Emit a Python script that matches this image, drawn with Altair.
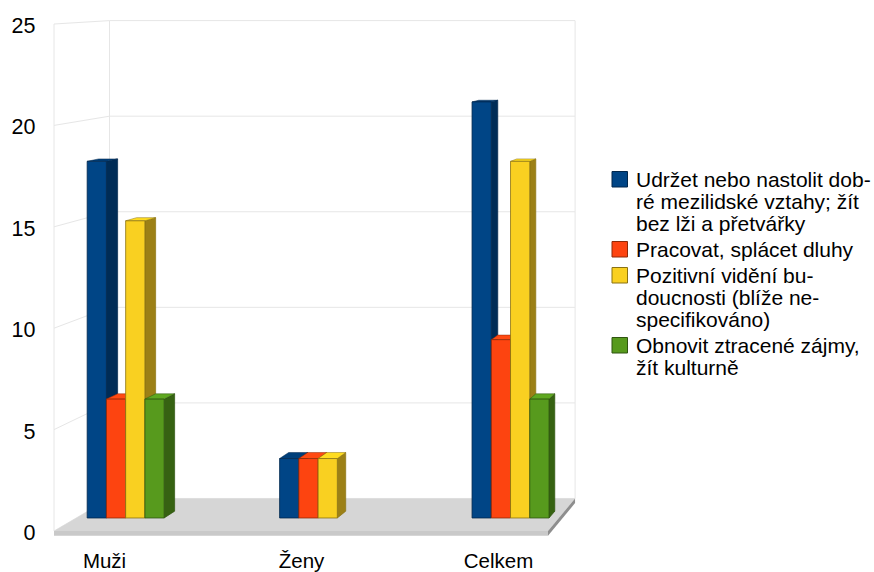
import altair as alt
import pandas as pd

# Chart values
categories = ["Muži", "Ženy", "Celkem"]
series_names = [
    "Udržet nebo nastolit dob-\nré mezilidské vztahy; žít\nbez lži a přetvářky",
    "Pracovat, splácet dluhy",
    "Pozitivní vidění bu-\ndoucnosti (blíže ne-\nspecifikováno)",
    "Obnovit ztracené zájmy,\nžít kulturně",
]
relationships = [18, 3, 21]
work = [6, 3, 9]
outlook = [15, 3, 18]
interests = [6, None, 6]
series_values = [relationships, work, outlook, interests]
ticks = [0, 5, 10, 15, 20, 25]

front_colors = ["#004586", "#fd4410", "#f9d021", "#579a1d"]
side_colors = ["#002c56", "#b0300a", "#9c8016", "#366212"]
top_colors = ["#003f7a", "#ff4a12", "#ffdc20", "#5fa820"]
edge_colors = ["#00274c", "#8f2a08", "#8a7212", "#2f5510"]

FONT = "Liberation Sans"

# Perspective projection: 3D points (category, value, depth) map onto the 2D scales
X_DOMAIN = [-0.254, 2.254]
Y_DOMAIN = [0, 25]
VANISH_U, VANISH_V = 4.645, 27.9
WALL_DEPTH = 0.0575
BAR_FRONT = 0.023
BAR_BACK = 0.035
BAR_WIDTH = 0.1
GROUP_START = -0.197
FLOOR_DROP = -0.24


def px(u, depth):
    return u + depth * (VANISH_U - u)


def py(v, depth):
    return v + depth * (VANISH_V - v)


X_SCALE = alt.Scale(domain=X_DOMAIN, nice=False, zero=False)
Y_SCALE = alt.Scale(domain=Y_DOMAIN, nice=False, zero=False)
# The axes carry only their explicit settings; every layer shares them
X_AXIS = alt.Axis(
    values=[0, 1, 2],
    labelExpr="['" + "','".join(categories) + "'][datum.value]",
    labelFont=FONT,
    labelFontSize=20.5,
    labelColor="#000000",
    labelPadding=20,
    labelAngle=0,
    labelFlush=False,
    labelOverlap=False,
    ticks=False,
    domain=False,
    grid=False,
    title=None,
)
Y_AXIS = alt.Axis(
    values=ticks,
    labelFont=FONT,
    labelFontSize=21.5,
    labelColor="#000000",
    labelPadding=19,
    labelOffset=2.5,
    ticks=False,
    domain=False,
    grid=False,
    title=None,
)


def xq(field="x"):
    return alt.X(f"{field}:Q", scale=X_SCALE, axis=X_AXIS)


def yq(field="y"):
    return alt.Y(f"{field}:Q", scale=Y_SCALE, axis=Y_AXIS)


x_left, x_right = X_DOMAIN

# Wall grid: each level runs along the left wall and then across the back wall
grid_rows = []
for t in ticks:
    for i, (u, d) in enumerate([(x_left, 0), (x_left, WALL_DEPTH), (x_right, WALL_DEPTH)]):
        grid_rows.append({"k": f"h{t}", "i": i, "x": px(u, d), "y": py(t, d)})
for name, u, d in [("front", x_left, 0), ("back", x_left, WALL_DEPTH), ("right", x_right, WALL_DEPTH)]:
    for i, v in enumerate(Y_DOMAIN):
        grid_rows.append({"k": name, "i": i, "x": px(u, d), "y": py(v, d)})

axes_layer = (
    alt.Chart(pd.DataFrame(grid_rows))
    .mark_line(color="#e6e6e6", strokeWidth=1)
    .encode(x=xq(), y=yq(), detail="k:N", order="i:Q")
)

# Floor slab: top surface, front edge and right edge
floor_top = alt.Chart(
    pd.DataFrame(
        [
            {"y": py(0, d), "x": px(x_left, d), "x2": px(x_right, d)}
            for d in (0, WALL_DEPTH)
        ]
    )
).mark_area(orient="horizontal", color="#d6d6d6").encode(x=xq(), x2="x2:Q", y=yq())

floor_front = alt.Chart(
    pd.DataFrame(
        [{"x": px(x_left, 0), "x2": px(x_right, 0), "y": 0, "y2": FLOOR_DROP}]
    )
).mark_rect(color="#c9c9c9").encode(x=xq(), x2="x2:Q", y=yq(), y2="y2:Q")

floor_side = alt.Chart(
    pd.DataFrame(
        [
            {"x": px(x_right, d), "y": py(0, d), "y2": py(FLOOR_DROP, d)}
            for d in (0, WALL_DEPTH)
        ]
    )
).mark_area(color="#8e8e8e").encode(x=xq(), y=yq(), y2="y2:Q")

layers = [axes_layer, floor_top, floor_front, floor_side]

# Bars drawn left to right so nearer faces cover their neighbours' side faces
for c in range(len(categories)):
    for s, values in enumerate(series_values):
        value = values[c]
        if value is None:
            continue
        u0 = c + GROUP_START + s * BAR_WIDTH
        u1 = u0 + BAR_WIDTH
        side = pd.DataFrame(
            [{"x": px(u1, d), "y": py(0, d), "y2": py(value, d)} for d in (BAR_FRONT, BAR_BACK)]
        )
        top = pd.DataFrame(
            [{"y": py(value, d), "x": px(u0, d), "x2": px(u1, d)} for d in (BAR_FRONT, BAR_BACK)]
        )
        front = pd.DataFrame(
            [
                {
                    "x": px(u0, BAR_FRONT),
                    "x2": px(u1, BAR_FRONT),
                    "y": py(0, BAR_FRONT),
                    "y2": py(value, BAR_FRONT),
                }
            ]
        )
        layers.append(
            alt.Chart(side)
            .mark_area(color=side_colors[s], stroke=edge_colors[s], strokeWidth=0.7)
            .encode(x=xq(), y=yq(), y2="y2:Q")
        )
        layers.append(
            alt.Chart(top)
            .mark_area(orient="horizontal", color=top_colors[s], stroke=edge_colors[s], strokeWidth=0.5)
            .encode(x=xq(), x2="x2:Q", y=yq())
        )
        layers.append(
            alt.Chart(front)
            .mark_rect(color=front_colors[s], stroke=edge_colors[s], strokeWidth=0.8)
            .encode(x=xq(), x2="x2:Q", y=yq(), y2="y2:Q")
        )

# Legend block on the right; positions are relative to the plot area
LEGEND_SWATCH_X = 558
LEGEND_TEXT_X = 582
LEGEND_BASELINE = 163
LINE_STEP = 22
ENTRY_GAP = 4
SWATCH_SIZE = 15.5

anchor = pd.DataFrame({"a": [0]})
lines_before = 0
for s, name in enumerate(series_names):
    rows = name.split("\n")
    baseline = LEGEND_BASELINE + lines_before * LINE_STEP + s * ENTRY_GAP
    layers.append(
        alt.Chart(anchor)
        .mark_rect(color=front_colors[s], stroke=edge_colors[s], strokeWidth=1)
        .encode(
            x=alt.value(LEGEND_SWATCH_X),
            x2=alt.value(LEGEND_SWATCH_X + SWATCH_SIZE),
            y=alt.value(baseline - SWATCH_SIZE),
            y2=alt.value(baseline),
        )
    )
    for j, row in enumerate(rows):
        layers.append(
            alt.Chart(pd.DataFrame({"t": [row]}))
            .mark_text(font=FONT, fontSize=21, align="left", baseline="alphabetic", color="#000000")
            .encode(
                x=alt.value(LEGEND_TEXT_X),
                y=alt.value(baseline + j * LINE_STEP),
                text="t:N",
            )
        )
    lines_before += len(rows)

chart = (
    alt.layer(*layers)
    .properties(
        width=494,
        height=507,
        padding={"left": 54, "top": 24, "right": 326, "bottom": 41},
        autosize=alt.AutoSizeParams(type="none"),
        background="#ffffff",
    )
    .configure_view(strokeWidth=0)
)

chart.save("out.html", embed_options={"renderer": "svg", "actions": False})
